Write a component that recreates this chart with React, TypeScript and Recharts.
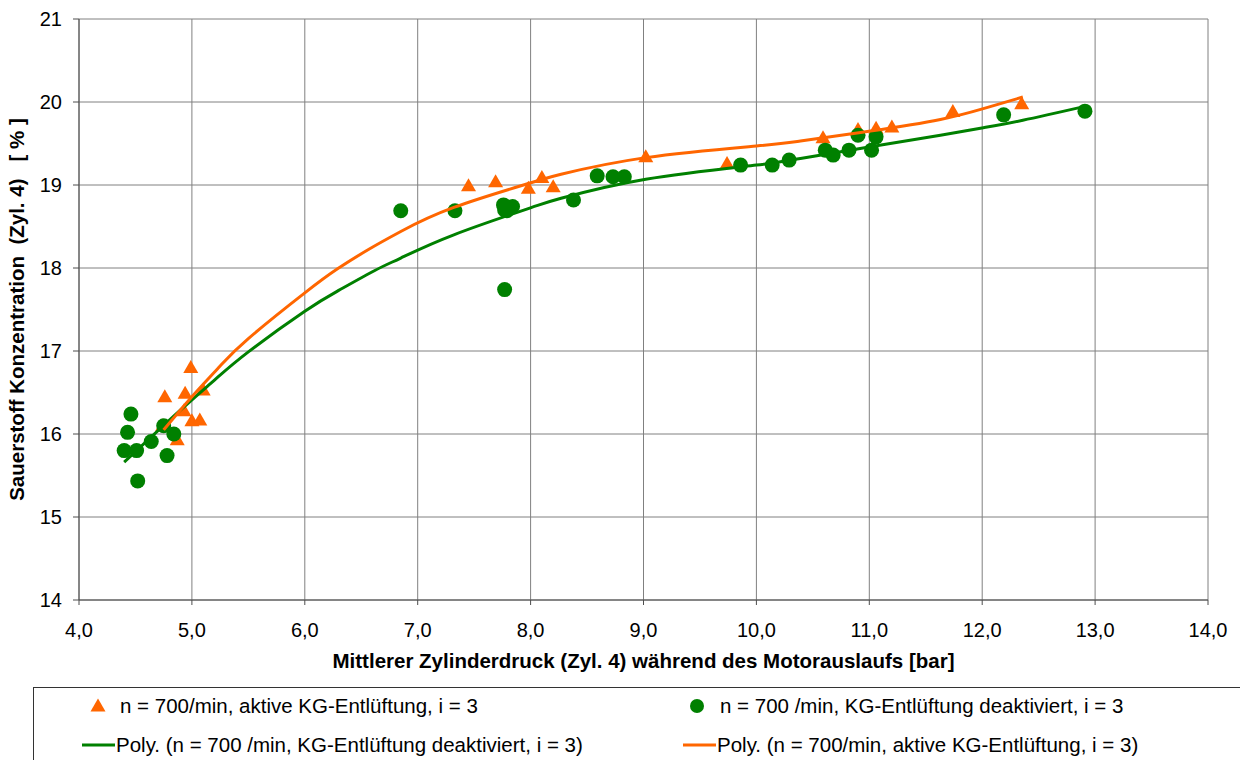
import React from "react";
import { ScatterChart, Scatter, XAxis, YAxis, CartesianGrid, Label } from "recharts";

const xTicks = [4, 5, 6, 7, 8, 9, 10, 11, 12, 13, 14];
const yTicks = [14, 15, 16, 17, 18, 19, 20, 21];

const aktivX = [4.76, 4.99, 4.94, 5.10, 4.93, 5.00, 5.07, 4.87, 4.74, 7.45, 7.69, 7.98, 8.10, 8.20, 9.02, 9.74, 10.59, 10.90, 11.06, 11.20, 11.74, 12.35];
const aktivY = [16.45, 16.80, 16.49, 16.53, 16.28, 16.16, 16.17, 15.93, 16.10, 18.99, 19.04, 18.96, 19.09, 18.98, 19.34, 19.26, 19.57, 19.67, 19.685, 19.70, 19.885, 19.98];

const deaktX = [4.46, 4.43, 4.40, 4.51, 4.52, 4.64, 4.75, 4.84, 4.78, 6.85, 7.33, 7.76, 7.77, 7.84, 7.79, 7.77, 8.38, 8.59, 8.73, 8.83, 9.86, 10.14, 10.29, 10.61, 10.68, 10.82, 10.90, 11.02, 11.06, 12.19, 12.91];
const deaktY = [16.24, 16.02, 15.80, 15.80, 15.435, 15.91, 16.10, 16.00, 15.74, 18.69, 18.69, 18.76, 18.70, 18.74, 18.69, 17.74, 18.82, 19.11, 19.10, 19.10, 19.24, 19.24, 19.30, 19.42, 19.36, 19.42, 19.60, 19.42, 19.58, 19.845, 19.89];

const polyDeaktX = [4.40, 4.9, 5.2, 5.5, 6.0, 6.3, 6.62, 6.85, 7.32, 8.01, 8.27, 9.02, 10.0, 10.39, 11.01, 11.63, 12.01, 12.36, 12.92];
const polyDeaktY = [15.66, 16.29, 16.65, 16.99, 17.48, 17.73, 17.97, 18.12, 18.40, 18.73, 18.84, 19.07, 19.24, 19.32, 19.46, 19.60, 19.69, 19.78, 19.95];

const polyAktivX = [4.75, 5.0, 5.25, 5.5, 6.0, 6.29, 6.56, 6.85, 7.32, 8.01, 8.27, 9.02, 10.0, 10.39, 11.01, 11.63, 12.01, 12.36];
const polyAktivY = [16.05, 16.45, 16.82, 17.15, 17.70, 17.99, 18.22, 18.44, 18.73, 19.03, 19.13, 19.33, 19.47, 19.53, 19.65, 19.79, 19.92, 20.06];

const legendLabels = [
  "n = 700/min, aktive KG-Entlüftung, i = 3",
  "n = 700 /min, KG-Entlüftung deaktiviert, i = 3",
  "Poly. (n = 700 /min, KG-Entlüftung deaktiviert, i = 3)",
  "Poly. (n = 700/min, aktive KG-Entlüftung, i = 3)",
];

const zip = (xs: number[], ys: number[]) => xs.map((x, i) => ({ x, y: ys[i] }));

const aktivData = zip(aktivX, aktivY);
const deaktData = zip(deaktX, deaktY);
const polyDeaktData = zip(polyDeaktX, polyDeaktY);
const polyAktivData = zip(polyAktivX, polyAktivY);

const ORANGE = "#FF6600";
const GREEN = "#008000";
const FONT = "'Liberation Sans', Arial, sans-serif";

const Triangle = (props: any) => {
  const { cx, cy } = props;
  if (cx == null || cy == null) return <g />;
  return <path d={`M${cx},${cy - 7.5} L${cx + 7.5},${cy + 5.5} L${cx - 7.5},${cy + 5.5} Z`} fill={ORANGE} />;
};

const Dot = (props: any) => {
  const { cx, cy } = props;
  if (cx == null || cy == null) return <g />;
  return <circle cx={cx} cy={cy} r={7.5} fill={GREEN} />;
};

const NoShape = () => <g />;

const fmt = (v: number) => v.toFixed(1).replace(".", ",");

export default function App() {
  return (
    <div style={{ position: "absolute", left: 0, top: 0, width: 1240, height: 760, background: "#fff", overflow: "hidden", fontFamily: FONT }}>
      <ScatterChart width={1240} height={760} margin={{ top: 19, right: 32, bottom: 100, left: 0 }}>
        <CartesianGrid stroke="#808080" strokeWidth={1} />
        <XAxis
          type="number"
          dataKey="x"
          domain={[4, 14]}
          ticks={xTicks}
          interval={0}
          tickFormatter={fmt}
          height={60}
          tickSize={5}
          tickMargin={18}
          stroke="#4d4d4d"
          tick={{ fill: "#000", fontSize: 20, fontFamily: FONT }}
          allowDataOverflow
        >
          <Label
            content={(p: any) => {
              const vb = p.viewBox || {};
              return (
                <text x={vb.x + vb.width / 2} y={668} textAnchor="middle" fontSize={20.5} fontWeight="bold" fontFamily={FONT} fill="#000">
                  Mittlerer Zylinderdruck (Zyl. 4) während des Motorauslaufs [bar]
                </text>
              );
            }}
          />
        </XAxis>
        <YAxis
          type="number"
          dataKey="y"
          domain={[14, 21]}
          ticks={yTicks}
          interval={0}
          width={79}
          tickSize={6}
          tickMargin={11}
          stroke="#4d4d4d"
          tick={{ fill: "#000", fontSize: 20, fontFamily: FONT }}
          allowDataOverflow
        >
          <Label
            content={(p: any) => {
              const vb = p.viewBox || {};
              const cy = vb.y + vb.height / 2;
              return (
                <text
                  x={24}
                  y={cy}
                  transform={`rotate(-90 24 ${cy})`}
                  textAnchor="middle"
                  fontSize={20.5}
                  fontWeight="bold"
                  fontFamily={FONT}
                  fill="#000"
                  style={{ whiteSpace: "pre" }}
                >
                  {"Sauerstoff Konzentration  (Zyl. 4)   [ % ]"}
                </text>
              );
            }}
          />
        </YAxis>
        <Scatter name={legendLabels[0]} data={aktivData} shape={Triangle} isAnimationActive={false} />
        <Scatter name={legendLabels[1]} data={deaktData} shape={Dot} isAnimationActive={false} />
        <Scatter
          name={legendLabels[2]}
          data={polyDeaktData}
          shape={NoShape}
          line={{ stroke: GREEN, strokeWidth: 3 }}
          lineJointType="natural"
          isAnimationActive={false}
        />
        <Scatter
          name={legendLabels[3]}
          data={polyAktivData}
          shape={NoShape}
          line={{ stroke: ORANGE, strokeWidth: 3 }}
          lineJointType="natural"
          isAnimationActive={false}
        />
      </ScatterChart>
      <div
        style={{
          position: "absolute",
          left: 33,
          top: 687,
          width: 1230,
          height: 100,
          border: "1px solid #333",
          boxSizing: "border-box",
          fontFamily: FONT,
          color: "#000",
        }}
      >
        <svg width={1230} height={100} style={{ position: "absolute", left: -1, top: -1 }}>
          <path d="M65,11.5 L72.5,24.5 L57.5,24.5 Z" fill={ORANGE} />
          <circle cx={664} cy={19} r={7} fill={GREEN} />
          <line x1={49} x2={82} y1={58} y2={58} stroke={GREEN} strokeWidth={3} />
          <line x1={650} x2={683} y1={58} y2={58} stroke={ORANGE} strokeWidth={3} />
          <text x={87} y={25.5} fontSize={20.5} fontFamily={FONT}>{legendLabels[0]}</text>
          <text x={687} y={25.5} fontSize={20.5} fontFamily={FONT}>{legendLabels[1]}</text>
          <text x={83} y={65} fontSize={20.5} fontFamily={FONT}>{legendLabels[2]}</text>
          <text x={684} y={65} fontSize={20.5} fontFamily={FONT}>{legendLabels[3]}</text>
        </svg>
      </div>
    </div>
  );
}
